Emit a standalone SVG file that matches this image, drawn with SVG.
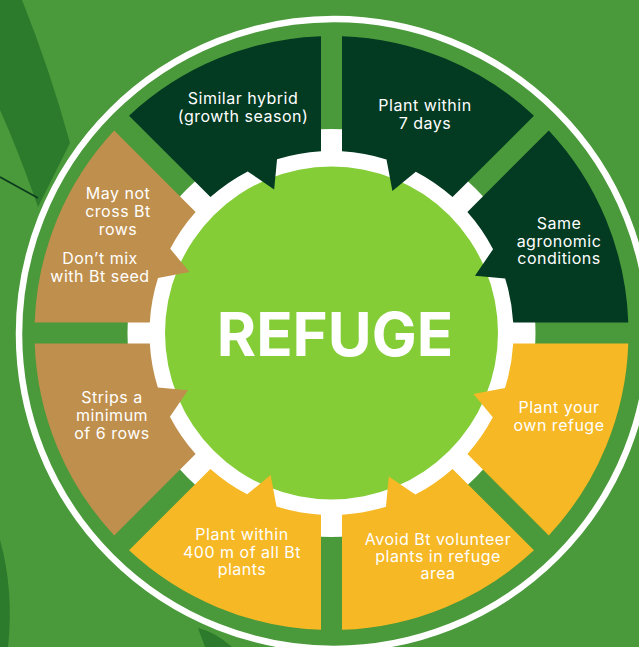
<svg xmlns="http://www.w3.org/2000/svg" xmlns:xlink="http://www.w3.org/1999/xlink" width="639" height="647" viewBox="0 0 639 647">
  <style>
    .lbl { font-family: Inter, "Liberation Sans", sans-serif; font-size: 16px; letter-spacing: 0.5px; fill: #ffffff; text-anchor: middle; }
    .title { font-family: Inter, "Liberation Sans", sans-serif; font-size: 60px; font-weight: 700; fill: #ffffff; text-anchor: middle; }
    .dark { fill: #033a22; }
    .tan { fill: #bf8f4d; }
    .orange { fill: #f6b824; }
  </style>
  <defs>
    <path id="seg" d="M10.5,-296.81 A297,297 0 0 1 202.45,-217.29 L121.06,-135.9 A182,182 0 0 0 84.3,-161.3 L60.9,-142 L55,-173.5 A182,182 0 0 0 10.5,-181.7 Z"/>
  </defs>

  <g id="background">
    <rect x="0" y="0" width="639" height="647" fill="#4a993a"/>
    <path d="M0,0 L22,0 Q50,70 70,143 L38,207 Q18,150 0,110 Z" fill="#2c7a2c"/>
    <path d="M0,540 Q14,590 8,647 L0,647 Z" fill="#2c7a2c"/>
    <path d="M198,628 Q215,632 232,647 L205,647 Z" fill="#2c7a2c"/>
    <line x1="0" y1="177" x2="38" y2="198" stroke="#0b3a1e" stroke-width="1.6"/>
  </g>

  <g id="rings">
    <circle cx="334" cy="334" r="315" fill="none" stroke="#ffffff" stroke-width="6.5"/>
    <circle cx="331.5" cy="333" r="204" fill="#ffffff"/>
    <circle cx="331.5" cy="333" r="166.5" fill="#84cd37"/>
  </g>

  <g id="connectors"/>

  <g id="node-similar-hybrid">
    <use href="#seg" class="dark" transform="translate(331.5,333) rotate(-45)"/>
    <text class="lbl" x="243" y="104">Similar hybrid</text>
    <text class="lbl" x="243" y="122">(growth season)</text>
  </g>
  <g id="node-plant-7-days">
    <use href="#seg" class="dark" transform="translate(331.5,333)"/>
    <text class="lbl" x="425" y="111">Plant within</text>
    <text class="lbl" x="425" y="129">7 days</text>
  </g>
  <g id="node-same-agronomic">
    <use href="#seg" class="dark" transform="translate(331.5,333) rotate(45)"/>
    <text class="lbl" x="559" y="229">Same</text>
    <text class="lbl" x="559" y="247">agronomic</text>
    <text class="lbl" x="559" y="264">conditions</text>
  </g>
  <g id="node-own-refuge">
    <use href="#seg" class="orange" transform="translate(331.5,333) rotate(90)"/>
    <text class="lbl" x="559" y="413">Plant your</text>
    <text class="lbl" x="559" y="431">own refuge</text>
  </g>
  <g id="node-avoid-volunteer">
    <use href="#seg" class="orange" transform="translate(331.5,333) rotate(135)"/>
    <text class="lbl" x="438" y="545">Avoid Bt volunteer</text>
    <text class="lbl" x="438" y="562">plants in refuge</text>
    <text class="lbl" x="438" y="579">area</text>
  </g>
  <g id="node-400m">
    <use href="#seg" class="orange" transform="translate(331.5,333) rotate(180)"/>
    <text class="lbl" x="242" y="540">Plant within</text>
    <text class="lbl" x="242" y="558">400 m of all Bt</text>
    <text class="lbl" x="242" y="575">plants</text>
  </g>
  <g id="node-strips">
    <use href="#seg" class="tan" transform="translate(331.5,333) rotate(225)"/>
    <text class="lbl" x="112" y="403">Strips a</text>
    <text class="lbl" x="112" y="421">minimum</text>
    <text class="lbl" x="112" y="439">of 6 rows</text>
  </g>
  <g id="node-cross-mix">
    <use href="#seg" class="tan" transform="translate(331.5,333) rotate(270)"/>
    <text class="lbl" x="118" y="199">May not</text>
    <text class="lbl" x="118" y="217">cross Bt</text>
    <text class="lbl" x="118" y="235">rows</text>
    <text class="lbl" x="100" y="264">Don’t mix</text>
    <text class="lbl" x="100" y="282">with Bt seed</text>
  </g>

  <g id="node-refuge">
    <text class="title" x="335" y="356">REFUGE</text>
  </g>
</svg>
